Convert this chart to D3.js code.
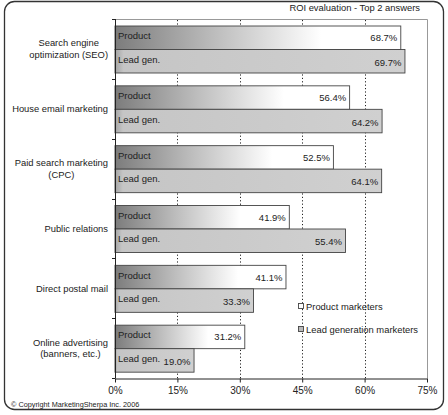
<!DOCTYPE html>
<html><head><meta charset="utf-8">
<script src="https://cdn.jsdelivr.net/npm/d3@7"></script>
<style>html,body{margin:0;padding:0;background:#fff}svg{display:block;font-family:"Liberation Sans",Arial,sans-serif}</style>
</head><body><svg id="c" width="448" height="415"></svg>
<script>
const categories = ["SEO","Email","PPC","PR","Postal","Online"];
const categoryLines = [["Search engine","optimization (SEO)"],["House email marketing"],["Paid search marketing","(CPC)"],["Public relations"],["Direct postal mail"],["Online advertising","(banners, etc.)"]];
const productValues = [68.7, 56.4, 52.5, 41.9, 41.1, 31.2];
const leadValues = [69.7, 64.2, 64.1, 55.4, 33.3, 19.0];
const seriesKeys = ["product","lead"];
const seriesInnerLabels = ["Product","Lead gen."];
const legendLabels = ["Product marketers","Lead generation marketers"];
const tickValues = [0,15,30,45,60,75];
const title = "ROI evaluation - Top 2 answers";
const copyright = "\u00A9 Copyright MarketingSherpa Inc. 2006";

const svg = d3.select("#c");
const defs = svg.append("defs");
const g1 = defs.append("linearGradient").attr("id","gProd").attr("x1","0").attr("x2","1").attr("y1","0").attr("y2","0");
g1.append("stop").attr("offset","0").attr("stop-color","#7c7c7c");
g1.append("stop").attr("offset","0.35").attr("stop-color","#bdbdbd");
g1.append("stop").attr("offset","0.72").attr("stop-color","#ffffff");
g1.append("stop").attr("offset","1").attr("stop-color","#ffffff");
const g2 = defs.append("linearGradient").attr("id","gLead").attr("x1","0").attr("x2","1").attr("y1","0").attr("y2","0");
g2.append("stop").attr("offset","0").attr("stop-color","#a4a4a4");
g2.append("stop").attr("offset","0.03").attr("stop-color","#c5c5c5");
g2.append("stop").attr("offset","1").attr("stop-color","#d0d0d0");

// outer frame
svg.append("rect").attr("x",4.5).attr("y",1.5).attr("width",439).attr("height",408).attr("rx",10)
  .attr("fill","#fff").attr("stroke","#333").attr("stroke-width",1.3);

const x = d3.scaleLinear().domain([0,75]).range([115,427]);
const y = d3.scaleBand().domain(categories).range([19,378]);
const ys = d3.scaleBand().domain(seriesKeys).range([7,54]);

// plot frame top/right
svg.append("path").attr("d",`M${x(0)},19.5H${x(75)+0.5}V${y.range()[1]}`).attr("fill","none").attr("stroke","#999").attr("stroke-width",1);

// gridlines
svg.append("g").selectAll("line").data(tickValues.filter(t=>t>0&&t<75)).join("line")
  .attr("x1",d=>Math.round(x(d))+0.5).attr("x2",d=>Math.round(x(d))+0.5)
  .attr("y1",20).attr("y2",378).attr("stroke","#222").attr("stroke-dasharray","1.2,2.2").attr("stroke-width",1);

// bars
const rows = categories.map((c,i)=>({c, vals:[productValues[i], leadValues[i]]}));
const grp = svg.append("g").selectAll("g").data(rows).join("g").attr("transform",d=>`translate(0,${y(d.c)})`);
grp.selectAll("rect").data(d=>seriesKeys.map((k,j)=>({k, j, v:d.vals[j]}))).join("rect")
  .attr("x",x(0)).attr("y",d=>ys(d.k)).attr("width",d=>x(d.v)-x(0)).attr("height",ys.bandwidth())
  .attr("fill",d=>d.j===0?"url(#gProd)":"url(#gLead)").attr("stroke","#444").attr("stroke-width",0.9);
grp.selectAll("text.in").data(d=>seriesKeys.map((k,j)=>({k, j, v:d.vals[j]}))).join("text").attr("class","in")
  .attr("x",x(0)+3).attr("y",d=>ys(d.k)+ys.bandwidth()/2+1.5).attr("font-size","9.5px").attr("fill","#222")
  .text(d=>seriesInnerLabels[d.j]);
grp.selectAll("text.val").data(d=>seriesKeys.map((k,j)=>({k, j, v:d.vals[j]}))).join("text").attr("class","val")
  .attr("x",d=>x(d.v)-3.5).attr("y",d=>ys(d.k)+ys.bandwidth()/2+3.5+(d.j===1?1:0)).attr("text-anchor","end")
  .attr("font-size","9.5px").attr("fill","#222").text(d=>d.v.toFixed(1)+"%");

// y axis
const yAxisG = svg.append("g");
yAxisG.append("line").attr("x1",115.5).attr("x2",115.5).attr("y1",19).attr("y2",378).attr("stroke","#222");
yAxisG.selectAll("line.t").data(categories.map(c=>y(c)).concat([378])).join("line").attr("class","t")
  .attr("x1",112).attr("x2",115.5).attr("y1",d=>Math.round(d)+0.5).attr("y2",d=>Math.round(d)+0.5).attr("stroke","#222");

// category labels
categories.forEach((c,i)=>{
  const lines = categoryLines[i];
  const cy = y(c)+y.bandwidth()/2;
  const lh = 11.5;
  const gL = svg.append("g");
  const ts = lines.map((t,k)=>gL.append("text").attr("font-size","9.4px").attr("fill","#222")
    .attr("y",cy+(k-(lines.length-1)/2)*lh+3.3).text(t));
  const widths = ts.map(t=>t.node().getComputedTextLength());
  const maxW = Math.max(...widths);
  const right = 108;
  ts.forEach((t,k)=>t.attr("x",right-maxW/2).attr("text-anchor","middle"));
});

// x axis
const xAxis = d3.axisBottom(x).tickValues(tickValues).tickFormat(d=>d+"%").tickSize(4).tickSizeOuter(0);
const xg = svg.append("g").attr("transform","translate(0,378.5)").call(xAxis);
xg.select(".domain").attr("stroke","#222");
xg.selectAll(".tick line").attr("stroke","#222");
xg.selectAll(".tick text").attr("font-size","10px").attr("fill","#222").attr("dy","0.71em").attr("y",8)
  .attr("font-family","Liberation Sans, Arial, sans-serif");

// title
svg.append("text").attr("x",420).attr("y",10.5).attr("text-anchor","end").attr("font-size","9.4px").attr("fill","#222").text(title);

// legend
const legY = [306, 329];
legendLabels.forEach((l,i)=>{
  svg.append("rect").attr("x",298.5).attr("y",legY[i]-2.5).attr("width",5).attr("height",5)
    .attr("fill",i===0?"#fff":"#bbb").attr("stroke","#444").attr("stroke-width",0.9);
  svg.append("text").attr("x",306).attr("y",legY[i]+3.5).attr("font-size","9.4px").attr("fill","#222").text(l);
});

// copyright
svg.append("text").attr("x",11).attr("y",406.5).attr("font-size","7.3px").attr("fill","#222").text(copyright);
</script></body></html>
